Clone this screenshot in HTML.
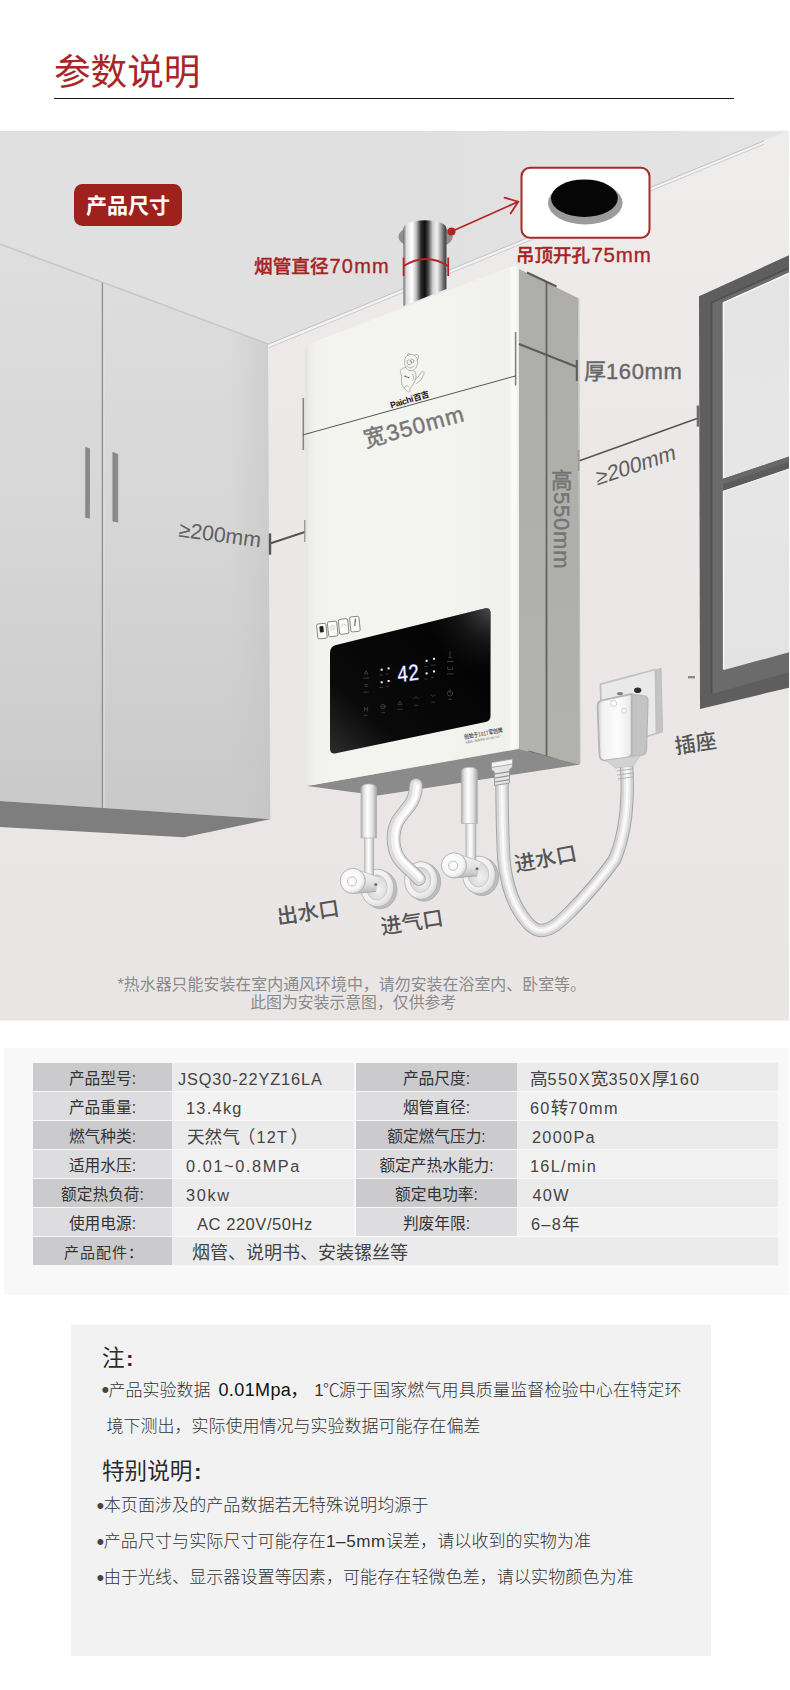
<!DOCTYPE html>
<html lang="zh-CN">
<head>
<meta charset="utf-8">
<title>参数说明</title>
<style>
*{margin:0;padding:0;box-sizing:border-box}
html,body{width:790px;height:1690px;background:#fff;overflow:hidden}
body{font-family:"Liberation Sans","Noto Sans CJK SC",sans-serif;color:#333;position:relative}
.abs{position:absolute}
#title{left:54px;top:46.5px;font-size:36.6px;line-height:52px;color:#a92526;font-weight:400;letter-spacing:0;white-space:nowrap}
#rule{left:54px;top:98px;width:680px;height:1px;background:#1a1a1a}
#scene{left:0;top:130px;width:790px;height:891px;display:block}
#tbox{left:4px;top:1048px;width:785px;height:247px;background:#f8f8f8}
#edge{left:789px;top:130px;width:1px;height:892px;background:#fff}
#edge2{left:0;top:1020px;width:790px;height:1px;background:#fff;opacity:.5}
#edge3{left:0;top:130px;width:790px;height:1px;background:#fff;opacity:.85}
.row{position:absolute;left:33px;height:28px;width:745px}
.c{position:absolute;top:0;height:28px;font-size:16px;line-height:28px;padding-top:2px;color:#3c3c3c;white-space:nowrap;font-weight:400}
.l1,.l2{font-size:15.7px;font-weight:400;color:#333}
.v1,.v2{font-size:17.6px;color:#444;padding-top:1.5px}
.la{letter-spacing:1.3px;font-size:16.3px}
.last{font-size:15px;letter-spacing:1px;text-indent:3px}
.l1{left:0;width:139px;text-align:center}
.v1{left:139px;width:182px}
.l2{left:323px;width:161px;text-align:center}
.v2{left:484px;width:261px}
.odd .l1,.odd .l2{background:#cbcbcd}
.odd .v1,.odd .v2{background:#ebebeb}
.even .l1,.even .l2{background:#dddddf}
.even .v1,.even .v2{background:#f2f2f2}
#notes{left:71px;top:1325px;width:640px;height:331px;background:#f2f2f2}
.n{position:absolute;white-space:nowrap;color:#333;font-weight:300;font-size:17px;line-height:24px}
.h{font-size:22.6px;font-weight:400;color:#2b2b2b;line-height:30px}
.m{font-size:17.1px}
.co{font-weight:700;margin-left:1.5px}
.b{font-weight:400;color:#111;font-size:18px;margin-left:8px;letter-spacing:0.4px}
.bu{display:inline-block;width:7.3px;font-size:22px;line-height:0;vertical-align:-1.5px;margin-left:-0.6px;color:#444}
</style>
</head>
<body>
<div id="title" class="abs">参数说明</div>
<div id="rule" class="abs"></div>
<svg id="scene" class="abs" viewBox="0 130 790 891" width="790" height="891">
<!--S1-->
<defs>
<linearGradient id="gWall" x1="0" y1="0" x2="0" y2="1"><stop offset="0" stop-color="#efecec"/><stop offset="0.35" stop-color="#ece8e8"/><stop offset="1" stop-color="#e9e5e5"/></linearGradient>
<linearGradient id="gCeil" x1="0" y1="0" x2="1" y2="0"><stop offset="0" stop-color="#e0e0e0"/><stop offset="0.5" stop-color="#e0e0e0"/><stop offset="1" stop-color="#e4e4e4"/></linearGradient>
<linearGradient id="gDoor" x1="0" y1="0" x2="0" y2="1"><stop offset="0" stop-color="#dedede"/><stop offset="0.5" stop-color="#d6d6d6"/><stop offset="1" stop-color="#c9c9c9"/></linearGradient>
<linearGradient id="gDoorE" x1="0" y1="0" x2="1" y2="0"><stop offset="0" stop-color="#c4c4c4" stop-opacity="0"/><stop offset="1" stop-color="#c2c2c2" stop-opacity="0.5"/></linearGradient>
<linearGradient id="gGlass" x1="0" y1="0" x2="0" y2="1"><stop offset="0" stop-color="#e4e4e4"/><stop offset="0.5" stop-color="#e6e6e6"/><stop offset="1" stop-color="#e3e3e3"/></linearGradient>
<linearGradient id="gHandle" x1="0" y1="0" x2="1" y2="0"><stop offset="0" stop-color="#cfcfcf"/><stop offset="0.3" stop-color="#858585"/><stop offset="1" stop-color="#8e8e8e"/></linearGradient>
<linearGradient id="gHandle2" x1="0" y1="0" x2="1" y2="0"><stop offset="0" stop-color="#cfcfcf"/><stop offset="0.3" stop-color="#858585"/><stop offset="1" stop-color="#8e8e8e"/></linearGradient>
</defs>
<!-- wall -->
<rect x="0" y="130" width="790" height="891" fill="url(#gWall)"/>
<!-- ceiling -->
<polygon points="0,130 790,130 790,130 268,344 0,244" fill="url(#gCeil)"/>
<!-- crown highlight along ceiling / wall edge -->
<polygon points="268,344.4 764,141 764,144.4 269,348" fill="#f3f2f2"/>
<line x1="268" y1="344.3" x2="764" y2="140.9" stroke="#c0c0c0" stroke-width="1"/>
<line x1="269" y1="347.6" x2="764" y2="144.2" stroke="#c6c6c6" stroke-width="0.9"/>
<!-- cabinet -->
<polygon points="0,244 268,344 270.2,819.2 0,801" fill="url(#gDoor)"/>
<polygon points="228,329 268,344 270.2,819.2 228,816.4" fill="url(#gDoorE)"/>
<line x1="0" y1="244" x2="268" y2="344" stroke="#c6c6c6" stroke-width="1.5"/>
<polygon points="0,801 270.2,819.2 184.2,837.2 0,827" fill="#7e7e7e"/>
<line x1="102.5" y1="283" x2="102.5" y2="808" stroke="#8f8f8f" stroke-width="1.5"/>
<line x1="104" y1="283" x2="104" y2="808" stroke="#e4e4e4" stroke-width="1"/>
<polygon points="84.4,446.6 90,448.6 90,518.6 84.4,517.4" fill="url(#gHandle)"/>
<polygon points="111.6,451.6 118.2,454 118.2,522.6 111.6,521.2" fill="url(#gHandle2)"/>
<!-- window -->
<polygon points="699,296.3 790,254.8 790,687.4 700,709" fill="#5e5e5e"/>
<polygon points="711.6,302.6 790,267.6 790,672 712,694" fill="#6b6b6b"/>
<polyline points="711.6,694 711.6,302.6 790,267.6" fill="none" stroke="#4e4e4e" stroke-width="1.6"/>
<polygon points="722.9,302.3 790,272.2 790,652 724,670" fill="url(#gGlass)"/>
<polyline points="723.6,669.6 723.4,302.9 790,273" fill="none" stroke="#f9f9f9" stroke-width="1.4"/>
<polygon points="722.5,479 790,456.2 790,468.6 722.5,491" fill="#5c5c5c"/>
<polygon points="722.5,479 790,456.2 790,461.5 722.5,484.5" fill="#686868"/>
<line x1="723" y1="491.6" x2="790" y2="468.6" stroke="#f4f4f4" stroke-width="1"/>
<rect x="688" y="676" width="7" height="2.4" fill="#8a8a8a"/>
<!--/S1-->
<!--S2-->
<defs>
<linearGradient id="gPipe" x1="0" y1="0" x2="1" y2="0">
<stop offset="0" stop-color="#6e6e6e"/><stop offset="0.07" stop-color="#dcdcdc"/><stop offset="0.2" stop-color="#ffffff"/><stop offset="0.3" stop-color="#bdbdbd"/><stop offset="0.41" stop-color="#2a2a2a"/><stop offset="0.5" stop-color="#0e0e0e"/><stop offset="0.58" stop-color="#4c4c4c"/><stop offset="0.68" stop-color="#cfcfcf"/><stop offset="0.78" stop-color="#f0f0f0"/><stop offset="0.88" stop-color="#9c9c9c"/><stop offset="0.95" stop-color="#585858"/><stop offset="1" stop-color="#454545"/>
</linearGradient>
<linearGradient id="gFront" x1="0" y1="0" x2="1" y2="0"><stop offset="0" stop-color="#e2e2de"/><stop offset="0.02" stop-color="#ecece8"/><stop offset="0.05" stop-color="#f2f2ef"/><stop offset="0.5" stop-color="#f4f4f1"/><stop offset="0.95" stop-color="#f0f0ed"/><stop offset="0.97" stop-color="#fbfbfa"/><stop offset="1" stop-color="#f2f2ef"/></linearGradient>
<linearGradient id="gSideL" x1="0" y1="0" x2="0" y2="1"><stop offset="0" stop-color="#adadaa"/><stop offset="1" stop-color="#b2b2ae"/></linearGradient>
<linearGradient id="gSideR" x1="0" y1="0" x2="0" y2="1"><stop offset="0" stop-color="#adadaa"/><stop offset="1" stop-color="#b1b1ad"/></linearGradient>
<radialGradient id="gPanelHi" gradientUnits="userSpaceOnUse" cx="492" cy="606" r="70"><stop offset="0" stop-color="#6a6a6a" stop-opacity="0.75"/><stop offset="0.5" stop-color="#444" stop-opacity="0.3"/><stop offset="1" stop-color="#222" stop-opacity="0"/></radialGradient>
<linearGradient id="gPanel" x1="0" y1="1" x2="1" y2="0"><stop offset="0" stop-color="#2c2c2c"/><stop offset="0.25" stop-color="#0a0a0a"/><stop offset="1" stop-color="#000"/></linearGradient>
</defs>
<!-- ceiling hole + flue pipe -->
<ellipse cx="425.6" cy="236.7" rx="27.2" ry="12.6" fill="#8f8f8f"/>
<path d="M403.4,229 Q403.4,221 425,220.3 Q446.5,221 446.5,229 L446.5,289 L403.4,306 Z" fill="url(#gPipe)"/>
<!-- heater side -->
<polygon points="519,269 546.5,282.5 546.5,756 519,749" fill="url(#gSideL)"/>
<polygon points="546.5,282.5 578,298 580,764.5 546.5,756" fill="url(#gSideR)"/>
<line x1="546.5" y1="282" x2="546.5" y2="756" stroke="#646464" stroke-width="1.8"/>
<line x1="528.4" y1="751.4" x2="557.2" y2="759.6" stroke="#6a6a6a" stroke-width="1.8"/>
<line x1="527" y1="272.5" x2="556.5" y2="286.5" stroke="#5a5a5a" stroke-width="2"/>
<line x1="578.8" y1="298" x2="580" y2="763" stroke="#bcbcbc" stroke-width="1"/>
<!-- underside -->
<polygon points="307,786 519,749 580,764.5 378,795.4" fill="#8b8b8b"/>
<!-- heater front -->
<path d="M305,352 Q305,345 312,342.4 L511,266.6 Q518,264 518,271 L519,744 Q519,748 515,748.8 L314,784.8 Q307,786 307,779 Z" fill="url(#gFront)"/>
<!-- control panel -->
<path d="M330,653 Q330,646.5 336,645 L484.5,608.5 Q490.5,607 490.5,613 L490.5,716 Q490.5,721 485.5,722 L336,753.3 Q330,754.5 330,748.5 Z" fill="url(#gPanel)"/>
<path d="M330,653 Q330,646.5 336,645 L484.5,608.5 Q490.5,607 490.5,613 L490.5,716 Q490.5,721 485.5,722 L336,753.3 Q330,754.5 330,748.5 Z" fill="url(#gPanelHi)"/>
<!--/S2-->
<!--S3-->
<defs>
<linearGradient id="gTube" x1="0" y1="0" x2="1" y2="0"><stop offset="0" stop-color="#a9a9a9"/><stop offset="0.16" stop-color="#dddddd"/><stop offset="0.42" stop-color="#ffffff"/><stop offset="0.7" stop-color="#e6e6e6"/><stop offset="0.9" stop-color="#bdbdbd"/><stop offset="1" stop-color="#a2a2a2"/></linearGradient>
<radialGradient id="gFl" cx="0.4" cy="0.4" r="0.7"><stop offset="0" stop-color="#fafafa"/><stop offset="0.65" stop-color="#f0f0f0"/><stop offset="1" stop-color="#d2d2d2"/></radialGradient>
<radialGradient id="gFlIn" cx="0.6" cy="0.6" r="0.7"><stop offset="0" stop-color="#f2f2f2"/><stop offset="1" stop-color="#cfcfcf"/></radialGradient>
<radialGradient id="gCap" cx="0.42" cy="0.42" r="0.62"><stop offset="0" stop-color="#ffffff"/><stop offset="0.72" stop-color="#f6f6f6"/><stop offset="1" stop-color="#cbcbcb"/></radialGradient>
<linearGradient id="gCapBody" x1="0" y1="0" x2="0" y2="1"><stop offset="0" stop-color="#f4f4f4"/><stop offset="0.55" stop-color="#e4e4e4"/><stop offset="1" stop-color="#b9b9b9"/></linearGradient>
<linearGradient id="gPlug" x1="0" y1="0" x2="1" y2="0"><stop offset="0" stop-color="#cdcdcd"/><stop offset="0.14" stop-color="#f1f1f1"/><stop offset="0.6" stop-color="#fcfcfc"/><stop offset="1" stop-color="#e9e9e9"/></linearGradient>
<g id="flange">
<ellipse cx="3" cy="1.6" rx="16.6" ry="19" fill="#bdbdbd" stroke="#a9a9a9" stroke-width="0.8"/>
<ellipse cx="0" cy="0" rx="16.4" ry="18.8" fill="url(#gFl)" stroke="#b2b2b2" stroke-width="0.9"/>
<ellipse cx="-0.6" cy="-0.6" rx="10.4" ry="12.6" fill="url(#gFlIn)" stroke="#c2c2c2" stroke-width="0.8"/>
</g>
<g id="capvalve">
<path d="M-22.5,-12.2 L2,-3.6 L-1.5,10.5 L-24,12.4 Z" fill="url(#gCapBody)"/>
<path d="M-22.5,-12.2 L2,-3.6" stroke="#bdbdbd" stroke-width="0.8" fill="none"/>
<path d="M-24,12.4 L-1.5,10.5" stroke="#a4a4a4" stroke-width="0.9" fill="none"/>
<circle cx="-24.6" cy="0" r="12.6" fill="url(#gCap)" stroke="#b4b4b4" stroke-width="1"/>
<circle cx="-25.4" cy="0.4" r="4.6" fill="#fdfdfd" stroke="#bdbdbd" stroke-width="1"/>
<circle cx="-1.6" cy="3.4" r="1.5" fill="#6f6f6f"/>
</g>
</defs>
<!-- outlet pipe (left) -->
<use href="#flange" x="377.4" y="888"/>
<rect x="364.2" y="836" width="9.8" height="52" fill="url(#gTube)"/>
<path d="M361,789 Q361,784 368.8,784 Q376.6,784 376.6,789 L376.6,838 L361,838 Z" fill="url(#gTube)" stroke="#b0b0b0" stroke-width="0.7"/>
<use href="#capvalve" x="377.4" y="881"/>
<!-- gas pipe (S-curve) -->
<use href="#flange" x="421" y="880.5"/>
<path d="M416,785 C416,811 393.5,812 393.5,838 C393.5,862 408,866 419,879" fill="none" stroke="#a6a6a6" stroke-width="13.6" stroke-linecap="round"/>
<path d="M416,785 C416,811 393.5,812 393.5,838 C393.5,862 408,866 419,879" fill="none" stroke="#dadada" stroke-width="11.8" stroke-linecap="round"/>
<path d="M416.6,785 C416.6,811 394.6,812 394.6,838 C394.6,861 409,865.4 419.6,878" fill="none" stroke="#f1f1f1" stroke-width="7" stroke-linecap="round"/>
<path d="M417.4,786 C417.4,811 396,813 396,838 C396,860 410,864.6 420,877" fill="none" stroke="#ffffff" stroke-width="3" stroke-linecap="round"/>
<!-- inlet pipe (right) -->
<use href="#flange" x="479" y="875"/>
<rect x="465.6" y="822" width="10.6" height="52" fill="url(#gTube)"/>
<path d="M461.4,772 Q461.4,767.2 469.4,767.2 Q477.4,767.2 477.4,772 L477.4,823.5 L461.4,823.5 Z" fill="url(#gTube)" stroke="#b0b0b0" stroke-width="0.7"/>
<use href="#capvalve" x="478.6" y="865.4"/>
<!-- power cable -->
<path d="M502,777 C502,810 502.5,835 503.9,860 C506,880 512,900 520,912.5 C527,923 533,930.5 541,930.5 C552,930.5 562,920 571,911 C585,897 600,880 614.4,860 C624,838 629.5,810 626.5,764" fill="none" stroke="#a5a5a5" stroke-width="13.4"/>
<path d="M502,777 C502,810 502.5,835 503.9,860 C506,880 512,900 520,912.5 C527,923 533,930.5 541,930.5 C552,930.5 562,920 571,911 C585,897 600,880 614.4,860 C624,838 629.5,810 626.5,764" fill="none" stroke="#d4d4d4" stroke-width="11.4"/>
<path d="M502,777 C502,810 502.5,835 503.9,860 C506,880 512,900 520,912.5 C527,923 533,930.5 541,930.5 C552,930.5 562,920 571,911 C585,897 600,880 614.4,860 C624,838 629.5,810 626.5,764" fill="none" stroke="#ececec" stroke-width="6.6"/>
<path d="M502,777 C502,810 502.5,835 503.9,860 C506,880 512,900 520,912.5 C527,923 533,930.5 541,930.5 C552,930.5 562,920 571,911 C585,897 600,880 614.4,860 C624,838 629.5,810 626.5,764" fill="none" stroke="#fafafa" stroke-width="2.4"/>
<!-- cable gland -->
<path d="M491.5,762.5 L512.5,759 L512.5,767 L509.5,769.5 L509.5,783 L494.5,785.5 L494.5,772 L491.5,770 Z" fill="#e4e4e4" stroke="#9c9c9c" stroke-width="1"/>
<path d="M491.5,762.5 L512.5,759 L512.5,764 L491.5,767.5 Z" fill="#f4f4f4" stroke="#9c9c9c" stroke-width="0.8"/>
<g stroke="#8f8f8f" stroke-width="1.1"><line x1="495" y1="774" x2="509.5" y2="771.6"/><line x1="495" y1="778" x2="509.5" y2="775.6"/><line x1="495" y1="782" x2="509.5" y2="779.6"/></g>
<!-- socket plate -->
<polygon points="655,670 661,668.5 662.5,732 656,734" fill="#c4c4c4" stroke="#bdbdbd" stroke-width="1"/>
<polygon points="600.5,684.2 655.5,669.5 656.5,733.5 602,750" fill="#e9e9e9" stroke="#bfbfbf" stroke-width="1.8" stroke-linejoin="round"/>
<polygon points="600.5,684.2 655.5,669.5 661,668.5 606,682.4" fill="#cfcfcf"/>
<ellipse cx="637.7" cy="690.3" rx="3.6" ry="2.8" fill="#2e2e2e"/>
<ellipse cx="620" cy="693.6" rx="3" ry="1.6" fill="#7c7c7c"/>
<!-- plug -->
<path d="M631.6,694 L645,696 Q648,697 648,701 L646.5,750 Q646,755 641,755.5 L631.6,756 Z" fill="#c4c4c4" stroke="#b4b4b4" stroke-width="1.2"/>
<path d="M597.5,706 Q597.5,701.5 602,700.4 L631.6,694 L631.6,754 Q631,757 626,758 L606,760.5 Q600,761 599.5,755 Z" fill="url(#gPlug)" stroke="#b6b6b6" stroke-width="1.8" stroke-linejoin="round"/>
<path d="M606,760.2 L640,755.5 L633.5,766 L615.5,768 Z" fill="#d2d2d2" stroke="#b8b8b8" stroke-width="0.6"/>
<g stroke="#a8a8a8" stroke-width="0.8"><line x1="616.5" y1="771" x2="632.5" y2="769"/><line x1="617" y1="775" x2="633" y2="773"/><line x1="617.5" y1="779" x2="633" y2="777"/></g>
<circle cx="613.7" cy="703.5" r="3" fill="#ffffff" stroke="#c4c4c4" stroke-width="0.9"/>
<circle cx="624" cy="710.8" r="2.4" fill="#ffffff" stroke="#cacaca" stroke-width="0.9"/>
<!--/S3-->
<!--S5-->
<!-- mascot logo (line drawing) -->
<g fill="none" stroke="#8c8c8c" stroke-width="0.6" stroke-linecap="round" stroke-linejoin="round">
<path d="M405.5,357.5 C403.5,361.5 404.5,368 409,370.5 C414,372 418,367 417.5,361 C417.5,357 414,354 410.5,354.5 C408,354.7 406.5,355.7 405.5,357.5 Z"/>
<path d="M407.5,355.5 C407,353.5 409,352.5 410.5,354.4"/>
<path d="M414.5,355.5 C416,353.5 419,354.5 418.5,357.5 C418.2,358.8 417.7,359.5 417.3,360"/>
<ellipse cx="409.2" cy="362.3" rx="2.2" ry="2.5" transform="rotate(-20 409.2 362.3)"/>
<ellipse cx="412.3" cy="361" rx="1.6" ry="2" transform="rotate(-20 412.3 361)"/>
<path d="M407,366 C408.5,368.5 412,368.5 414,366"/>
<path d="M405.5,367.5 C402,368 399.5,370 400.5,372.5 C401.5,374.5 402,376 401.5,379 C401,383 402,386 404,388 C406,390 407,391.5 408.5,392 C410,392.3 410.5,390.5 409.5,389 C412,386.5 414.5,383 415.5,379 C416.5,376 416,373 414.5,371"/>
<path d="M404,388 C404.5,386 406.5,385 408.5,386.5"/>
<path d="M415.5,379 C418,378 420,374 421.5,372 C423,370.5 424.5,372 424,374 C422.5,378 420,382 416.5,383.5"/>
<path d="M412.5,374.5 C414,376.5 414,379 412.8,380.5"/>
</g>
<g fill="#444"><circle cx="405.2" cy="376.2" r="0.8"/><circle cx="407" cy="377" r="0.7"/><circle cx="408.6" cy="377.6" r="0.6"/></g>
<text transform="translate(391.2,408.4) rotate(-17)" font-family="'Liberation Sans','Noto Sans CJK SC',sans-serif" font-size="8.8" font-weight="700" fill="#1a1a1a" letter-spacing="-0.4">Paichi<tspan font-size="8.4" dx="0.5">百吉</tspan></text>
<!-- small icon boxes above panel -->
<g fill="#fbfbf8" stroke="#5a5a5a" stroke-width="0.7">
<rect x="317.2" y="623.6" width="9.4" height="15" rx="1.6" transform="rotate(-6 322 631)"/>
<rect x="328" y="621.4" width="9.4" height="15" rx="1.6" transform="rotate(-6 332.7 629)"/>
<rect x="338.9" y="619" width="9.4" height="15" rx="1.6" transform="rotate(-6 343.6 626.5)"/>
<rect x="350.2" y="616.6" width="9.4" height="15" rx="1.6" transform="rotate(-6 355 624)"/>
</g>
<rect x="319.8" y="626" width="4" height="6.4" rx="1" fill="#222" transform="rotate(-6 322 631)"/>
<circle cx="332.6" cy="627.6" r="2" fill="none" stroke="#9a9a9a" stroke-width="0.5"/>
<path d="M341.4,627 Q343.6,621.5 346,626" fill="none" stroke="#9a9a9a" stroke-width="0.5"/>
<path d="M355.4,618.6 L354.8,626" fill="none" stroke="#333" stroke-width="0.9"/>
<!-- panel display -->
<g font-family="'Liberation Mono','Liberation Sans',sans-serif">
<text transform="translate(397.4,682.6) rotate(-8) skewX(-4)" font-size="23.5" fill="#7f86ff" opacity="0.5" stroke="#6a74ff" stroke-width="1.1" textLength="22.6" lengthAdjust="spacingAndGlyphs">42</text>
<text transform="translate(397.4,682.6) rotate(-8) skewX(-4)" font-size="23.5" fill="#f3f4ff" textLength="22.6" lengthAdjust="spacingAndGlyphs">42</text>
</g>
<g fill="#f4f4ff">
<rect x="380.7" y="668.7" width="2" height="2"/><rect x="387.6" y="667.4" width="2" height="2"/><rect x="380.7" y="681.3" width="2" height="2"/><rect x="387.6" y="680" width="2" height="2"/>
<rect x="425.6" y="659.8" width="2" height="2"/><rect x="433" y="657.8" width="2" height="2"/><rect x="425.6" y="672.4" width="2" height="2"/><rect x="433" y="670.4" width="2" height="2"/>
</g>
<!-- dim panel icons -->
<g fill="none" stroke="#4d4d4d" stroke-width="0.7" stroke-linecap="round">
<path d="M366,671 l-1.6,3 h3.2 z"/><path d="M364.4,685 q1.8,-2 3.6,0 M365.2,686.6 q1,-1 2,0"/>
<path d="M364.4,711 v-3.6 l1.6,2.4 l1.6,-2.4 v3.6"/><circle cx="383" cy="706.6" r="2.3"/><path d="M382,706.6 l0.8,0.9 l1.3,-1.7"/>
<path d="M398.2,704.4 l1.8,-3.2 l1.8,3.2 z"/><path d="M414,698.6 l2,-2 l2,2"/><path d="M431,694.6 l2,2 l2,-2"/>
<circle cx="450" cy="693.4" r="2.6"/><path d="M450,689.8 v3"/>
<path d="M450,651.6 v5 M448.6,657.6 h2.8"/><path d="M447.6,667.2 v2.2 h5 v-2.2"/>
</g>
<g fill="#3c3c3c">
<rect x="363.4" y="677.6" width="5.4" height="1"/><rect x="363.4" y="691.6" width="5.4" height="1"/><rect x="364" y="714.8" width="3.6" height="1"/><rect x="381.4" y="712.2" width="3.4" height="1"/><rect x="397.6" y="708.8" width="5" height="1"/><rect x="414.4" y="704.8" width="3.4" height="1"/><rect x="431.4" y="701.6" width="3.4" height="1"/><rect x="448.4" y="698.8" width="3.4" height="1"/>
<rect x="447" y="661" width="6.4" height="1"/><rect x="447" y="673.4" width="6.4" height="1"/>
<rect x="379.4" y="674.6" width="3.6" height="0.9"/><rect x="385.8" y="673.4" width="2.6" height="0.9"/><rect x="379.4" y="687" width="3.8" height="0.9"/><rect x="386" y="685.8" width="2.6" height="0.9"/>
<rect x="424.6" y="666" width="3.4" height="0.9"/><rect x="430.6" y="664.6" width="5" height="0.9"/><rect x="424.6" y="678.6" width="3" height="0.9"/><rect x="431" y="677.2" width="3" height="0.9"/>
</g>
<!-- small brand text bottom right of front -->
<g font-family="'Liberation Sans','Noto Sans CJK SC',sans-serif" fill="#333">
<text transform="translate(464.6,739.2) rotate(-10.5)" font-size="6.2" font-weight="500" textLength="39" lengthAdjust="spacingAndGlyphs">创始于1917军创牌</text>
<text transform="translate(465.4,743.8) rotate(-10.5)" font-size="3" fill="#666" textLength="36" lengthAdjust="spacingAndGlyphs">全国统一服务热线 400 000 1917</text>
</g>
<!--/S5-->
<!--S4-->
<g font-family="'Liberation Sans','Noto Sans CJK SC',sans-serif">
<!-- badge -->
<rect x="74" y="184" width="108" height="42" rx="8.5" fill="#9f211e"/>
<text x="128" y="212.6" font-size="21" font-weight="700" fill="#fff" text-anchor="middle">产品尺寸</text>
<!-- flue label + arc -->
<text x="254" y="273.2" font-size="18.7" font-weight="500" fill="#a82323" stroke="#a82323" stroke-width="0.35">烟管直径<tspan font-size="20" dx="0.8" letter-spacing="1.2">70mm</tspan></text>
<g stroke="#b42424" stroke-width="1.8" fill="none"><line x1="403.6" y1="257.5" x2="403.6" y2="276"/><line x1="448.2" y1="257.5" x2="448.2" y2="276"/><path d="M403.6,266 Q426,252 448.2,266"/></g>
<!-- arrow to callout -->
<circle cx="451.5" cy="231.5" r="4" fill="#b42424"/>
<g stroke="#b42424" stroke-width="1.8" fill="none" stroke-linecap="round"><line x1="451.5" y1="231.5" x2="518" y2="201.8"/><path d="M504.5,197.6 L518.2,201.7 L510.6,213.4"/></g>
<!-- callout -->
<rect x="521.5" y="167.7" width="128" height="70" rx="8.5" fill="#fff" stroke="#a52a2a" stroke-width="2"/>
<ellipse cx="585.3" cy="203" rx="37.3" ry="21.5" fill="#9b9b9b"/>
<ellipse cx="584.4" cy="198.2" rx="33.4" ry="18.8" fill="#060606"/>
<text x="516" y="261.5" font-size="18.5" font-weight="500" fill="#a82323" stroke="#a82323" stroke-width="0.35">吊顶开孔<tspan font-size="20.5" dx="1.4" letter-spacing="0.8">75mm</tspan></text>
<!-- width dimension -->
<g stroke="#858585" stroke-width="1.6"><line x1="303.3" y1="398" x2="303.3" y2="450"/><line x1="515.6" y1="332" x2="515.6" y2="385.5"/></g>
<line x1="303.3" y1="434.8" x2="516" y2="375.8" stroke="#555" stroke-width="1"/>
<text transform="translate(366,447.5) rotate(-15)" font-size="22.5" fill="#777" stroke="#777" stroke-width="0.45" letter-spacing="1">宽350mm</text>
<!-- depth dimension -->
<line x1="519" y1="344" x2="577" y2="367" stroke="#5c5c5c" stroke-width="2.2"/>
<line x1="576.8" y1="360" x2="576.8" y2="381" stroke="#5c5c5c" stroke-width="2"/>
<text x="584" y="379.3" font-size="22" fill="#666" stroke="#666" stroke-width="0.4">厚<tspan letter-spacing="0.6">160mm</tspan></text>
<!-- height label -->
<text x="561.8" y="488.4" text-anchor="middle" font-size="21.5" fill="#747474" stroke="#747474" stroke-width="0.45">高</text>
<text transform="translate(553.8,492) rotate(90)" font-size="22" fill="#747474" stroke="#747474" stroke-width="0.45" letter-spacing="0.8">550mm</text>
<!-- right clearance -->
<line x1="579.5" y1="460.8" x2="697" y2="418.4" stroke="#555" stroke-width="1.6"/>
<line x1="578.6" y1="450" x2="578.6" y2="471" stroke="#9a9a9a" stroke-width="1.6"/>
<line x1="698" y1="405.5" x2="698" y2="426.6" stroke="#6a6a6a" stroke-width="2.6"/>
<text transform="translate(597,485.5) rotate(-18.4) skewX(-12)" font-size="21.5" fill="#5e5e5e">≥200mm</text>
<!-- left clearance -->
<line x1="270" y1="533.4" x2="270" y2="554.7" stroke="#555" stroke-width="2.4"/>
<line x1="270" y1="543.5" x2="304.8" y2="532" stroke="#555" stroke-width="2"/>
<line x1="304.8" y1="520" x2="304.8" y2="542" stroke="#8a8a8a" stroke-width="1.2"/>
<text transform="translate(178,536.5) rotate(7.6)" font-size="21.3" fill="#606060">≥200mm</text>
<!-- pipe labels -->
<text transform="translate(278,924.5) rotate(-8.7)" font-size="21" font-weight="500" fill="#555">出水口</text>
<text transform="translate(382,934.5) rotate(-9)" font-size="21" font-weight="500" fill="#555">进气口</text>
<text transform="translate(516,872) rotate(-11)" font-size="21" font-weight="500" fill="#555">进水口</text>
<text transform="translate(676,754) rotate(-9)" font-size="21" font-weight="500" fill="#555">插座</text>
<!-- caption -->
<text x="351.8" y="989.6" font-size="15.95" fill="#8a8a8a" text-anchor="middle">*热水器只能安装在室内通风环境中，请勿安装在浴室内、卧室等。</text>
<text x="353.2" y="1008.4" font-size="15.85" fill="#8a8a8a" text-anchor="middle">此图为安装示意图，仅供参考</text>
</g>
<!--/S4-->
</svg>
<div id="edge" class="abs"></div><div id="edge2" class="abs"></div><div id="edge3" class="abs"></div>
<div id="tbox" class="abs"></div>
<!--TABLE-->
<div class="row odd" style="top:1063px"><div class="c l1">产品型号:</div><div class="c v1" style="padding-left:6px"><span class="la" style="letter-spacing:0.9px">JSQ30-22YZ16LA</span></div><div class="c l2">产品尺度:</div><div class="c v2" style="padding-left:13px">高<span class="la">550X</span>宽<span class="la">350X</span>厚<span class="la">160</span></div></div>
<div class="row even" style="top:1092px"><div class="c l1">产品重量:</div><div class="c v1" style="padding-left:14px"><span class="la">13.4kg</span></div><div class="c l2">烟管直径:</div><div class="c v2" style="padding-left:13px"><span class="la">60</span>转<span class="la">70mm</span></div></div>
<div class="row odd" style="top:1121px"><div class="c l1">燃气种类:</div><div class="c v1" style="padding-left:15px">天然气<span style="margin-left:-2px">（</span><span class="la" style="margin-left:1px">12T</span><span style="margin-left:2px">）</span></div><div class="c l2">额定燃气压力:</div><div class="c v2" style="padding-left:15px"><span class="la">2000Pa</span></div></div>
<div class="row even" style="top:1150px"><div class="c l1">适用水压:</div><div class="c v1" style="padding-left:14px"><span class="la" style="letter-spacing:1.6px">0.01~0.8MPa</span></div><div class="c l2">额定产热水能力:</div><div class="c v2" style="padding-left:13px"><span class="la">16L/min</span></div></div>
<div class="row odd" style="top:1179px"><div class="c l1">额定热负荷:</div><div class="c v1" style="padding-left:14px"><span class="la" style="letter-spacing:1.7px">30kw</span></div><div class="c l2">额定电功率:</div><div class="c v2" style="padding-left:15.5px"><span class="la">40W</span></div></div>
<div class="row even" style="top:1208px"><div class="c l1">使用电源:</div><div class="c v1" style="padding-left:25px"><span class="la" style="letter-spacing:0.5px;font-size:16.6px">AC 220V/50Hz</span></div><div class="c l2">判废年限:</div><div class="c v2" style="padding-left:14px"><span class="la">6–8</span>年</div></div>
<div class="row odd" style="top:1237px"><div class="c l1 last">产品配件：</div><div class="c v1" style="width:606px;padding-left:20px;font-size:18px">烟管、说明书、安装镙丝等</div></div>
<!--/TABLE-->
<div id="notes" class="abs"></div>
<!--NOTES-->
<div class="n h" style="left:102px;top:1343.5px">注<span class="co">:</span></div>
<div class="n" style="left:102px;top:1377.6px"><span class="bu" style="width:7px">•</span>产品实验数据<span class="b">0.01Mpa</span><span class="b" style="margin:0 6px 0 -1px;letter-spacing:0">，</span><span style="letter-spacing:-1px">1℃</span><span style="letter-spacing:0.14px">源于国家燃气用具质量监督检验中心在特定环</span></div>
<div class="n" style="left:106.5px;top:1414.6px">境下测出，实际使用情况与实验数据可能存在偏差</div>
<div class="n h" style="left:102px;top:1456.5px">特别说明<span class="co">:</span></div>
<div class="n m" style="left:97px;top:1494.3px"><span class="bu">•</span>本页面涉及的产品数据若无特殊说明均源于</div>
<div class="n m" style="left:97px;top:1530.3px"><span class="bu">•</span>产品尺寸与实际尺寸可能存在<span style="letter-spacing:0.6px">1–5mm</span>误差，请以收到的实物为准</div>
<div class="n m" style="left:97px;top:1566.3px"><span class="bu">•</span>由于光线、显示器设置等因素，可能存在轻微色差，请以实物颜色为准</div>
<!--/NOTES-->
</body>
</html>
